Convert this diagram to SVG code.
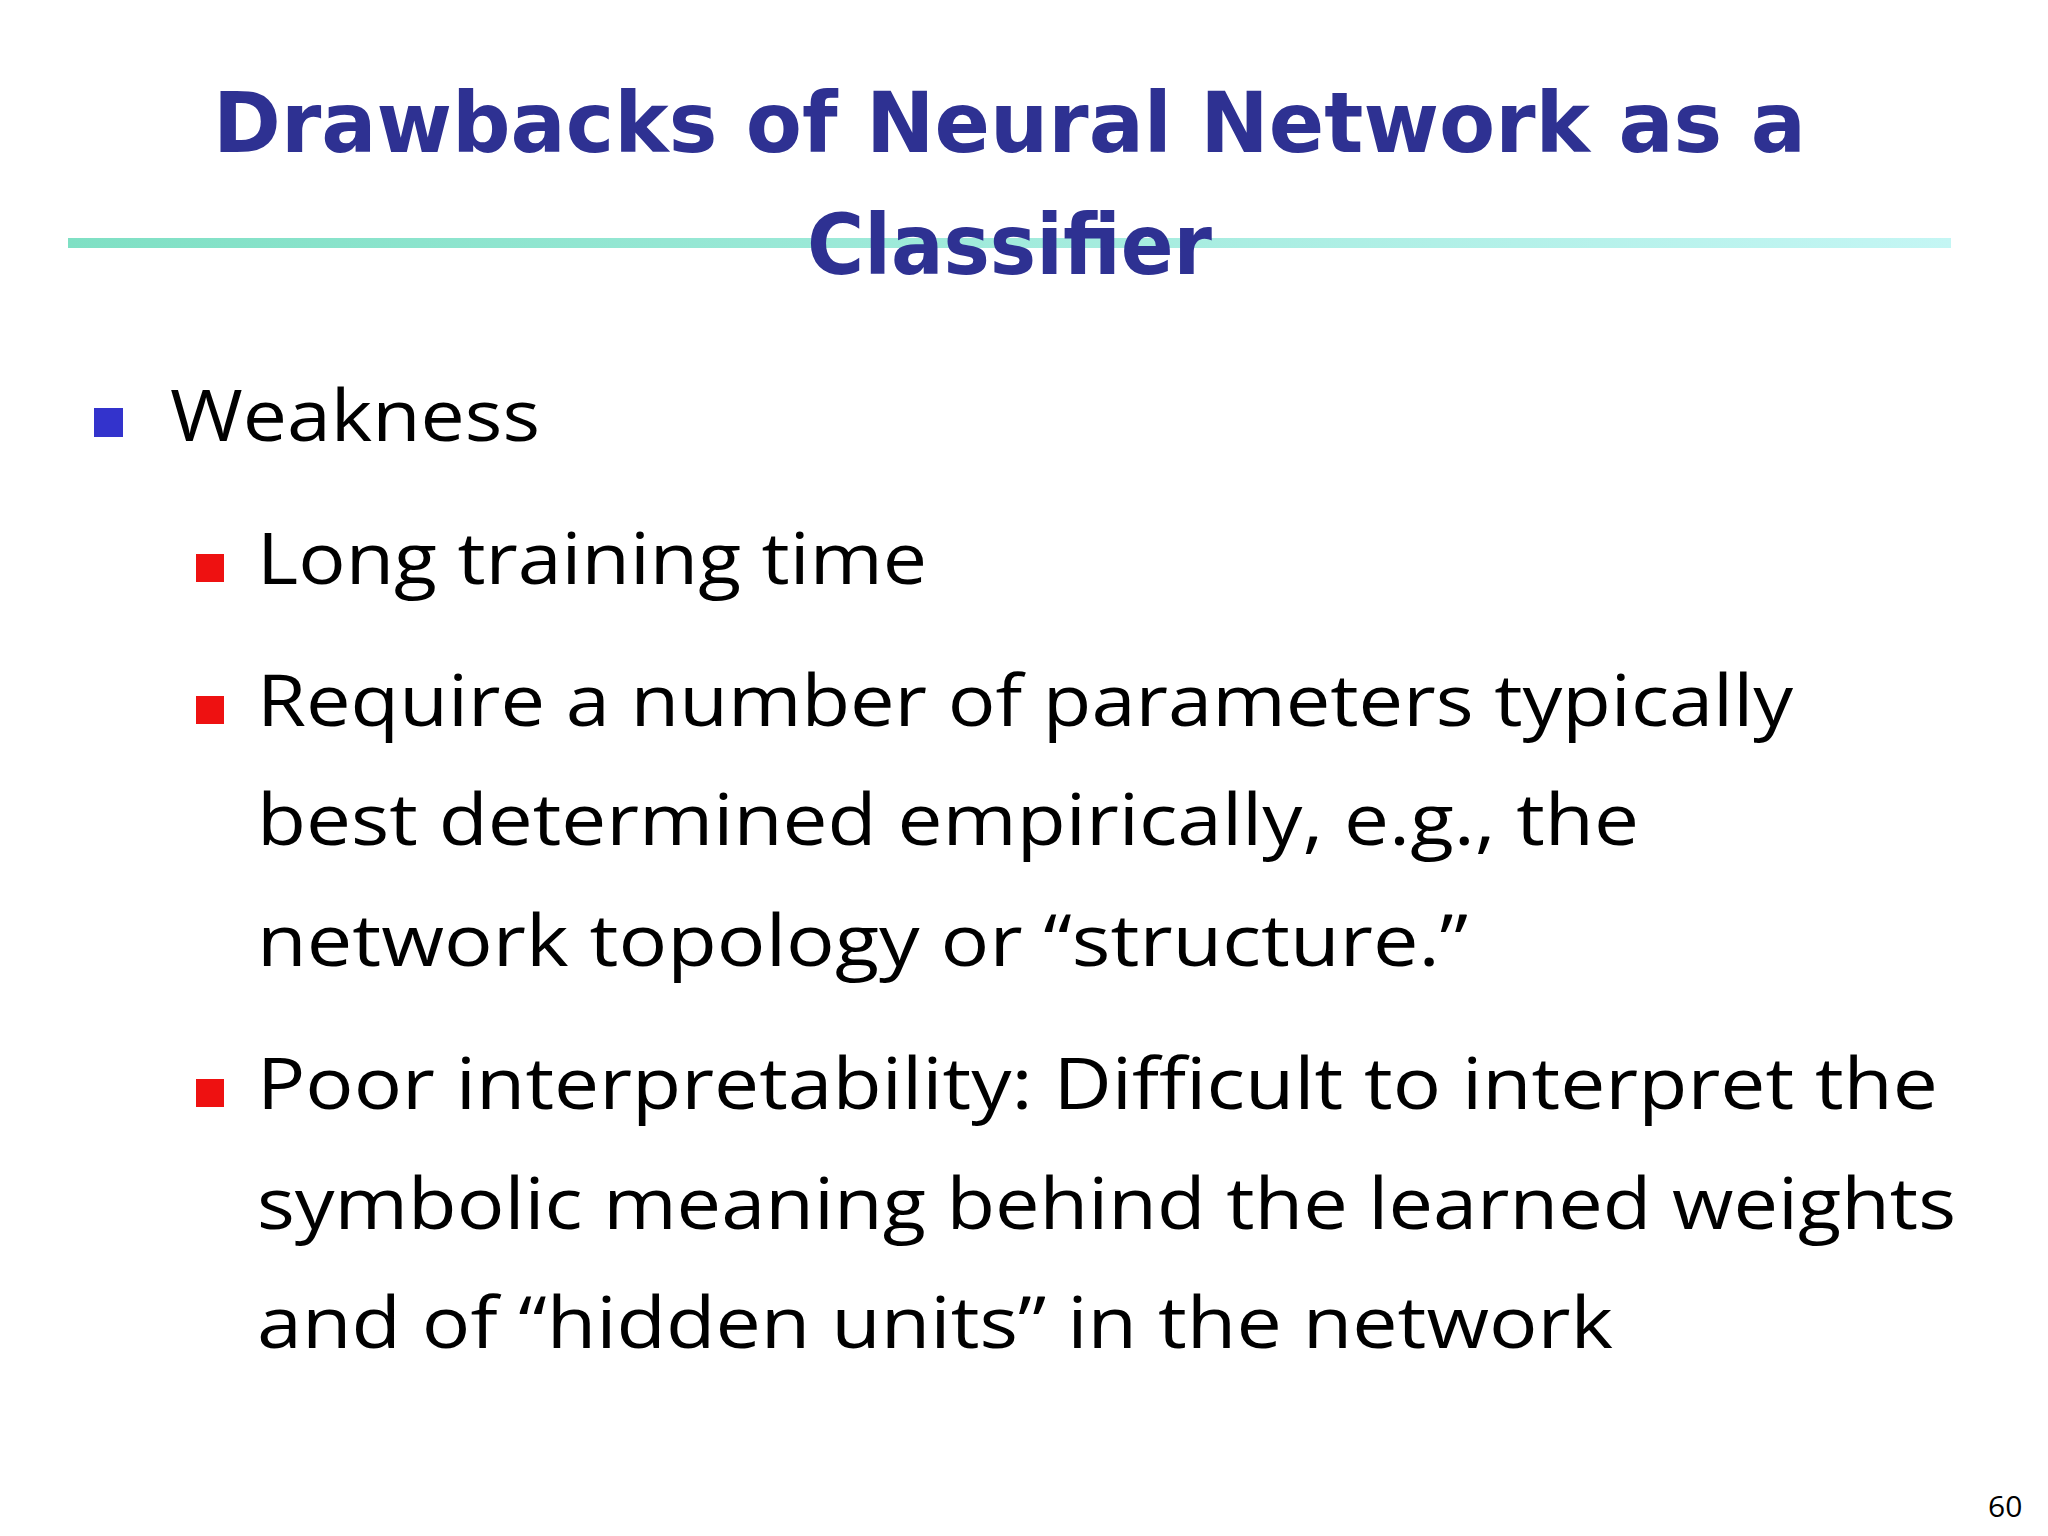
<svg xmlns="http://www.w3.org/2000/svg" width="2048" height="1536" viewBox="0 0 2048 1536">
<defs>
<linearGradient id="rule" x1="0" x2="1" y1="0" y2="0">
<stop offset="0" stop-color="#7fe0c4"/><stop offset="1" stop-color="#c4f6f4"/>
</linearGradient>
</defs>
<style>
.t{font-family:"DejaVu Sans",sans-serif;font-weight:bold;font-size:84px;fill:#2e3192}
.b{font-family:"Open Sans","Liberation Sans",sans-serif;font-size:72px;fill:#000}
.n{font-family:"Open Sans","Liberation Sans",sans-serif;font-size:30px;fill:#000}
</style>
<rect width="2048" height="1536" fill="#fff"/>
<rect x="68" y="238" width="1883" height="10" fill="url(#rule)"/>
<g id="title">
<text class="t" x="213" y="152" textLength="1593" lengthAdjust="spacingAndGlyphs">Drawbacks of Neural Network as a</text>
<text class="t" x="807" y="274" textLength="405" lengthAdjust="spacingAndGlyphs">Classifier</text>
</g>
<g id="bullets">
<rect x="94" y="408" width="29" height="29" fill="#3333cc"/>
<text class="b" x="170" y="441" textLength="370" lengthAdjust="spacingAndGlyphs">Weakness</text>
<rect x="196" y="554" width="28" height="28" fill="#ee1111"/>
<text class="b" x="257" y="584" textLength="670" lengthAdjust="spacingAndGlyphs">Long training time</text>
<rect x="196" y="696" width="28" height="28" fill="#ee1111"/>
<text class="b" x="257" y="726" textLength="1536" lengthAdjust="spacingAndGlyphs">Require a number of parameters typically</text>
<text class="b" x="257" y="845" textLength="1382" lengthAdjust="spacingAndGlyphs">best determined empirically, e.g., the</text>
<text class="b" x="257" y="966" textLength="1211" lengthAdjust="spacingAndGlyphs">network topology or “structure.”</text>
<rect x="196" y="1079" width="28" height="28" fill="#ee1111"/>
<text class="b" x="257" y="1109" textLength="1681" lengthAdjust="spacingAndGlyphs">Poor interpretability: Difficult to interpret the</text>
<text class="b" x="257" y="1229" textLength="1699" lengthAdjust="spacingAndGlyphs">symbolic meaning behind the learned weights</text>
<text class="b" x="257" y="1348" textLength="1356" lengthAdjust="spacingAndGlyphs">and of “hidden units” in the network</text>
</g>
<text class="n" x="1988" y="1517">60</text>
</svg>
